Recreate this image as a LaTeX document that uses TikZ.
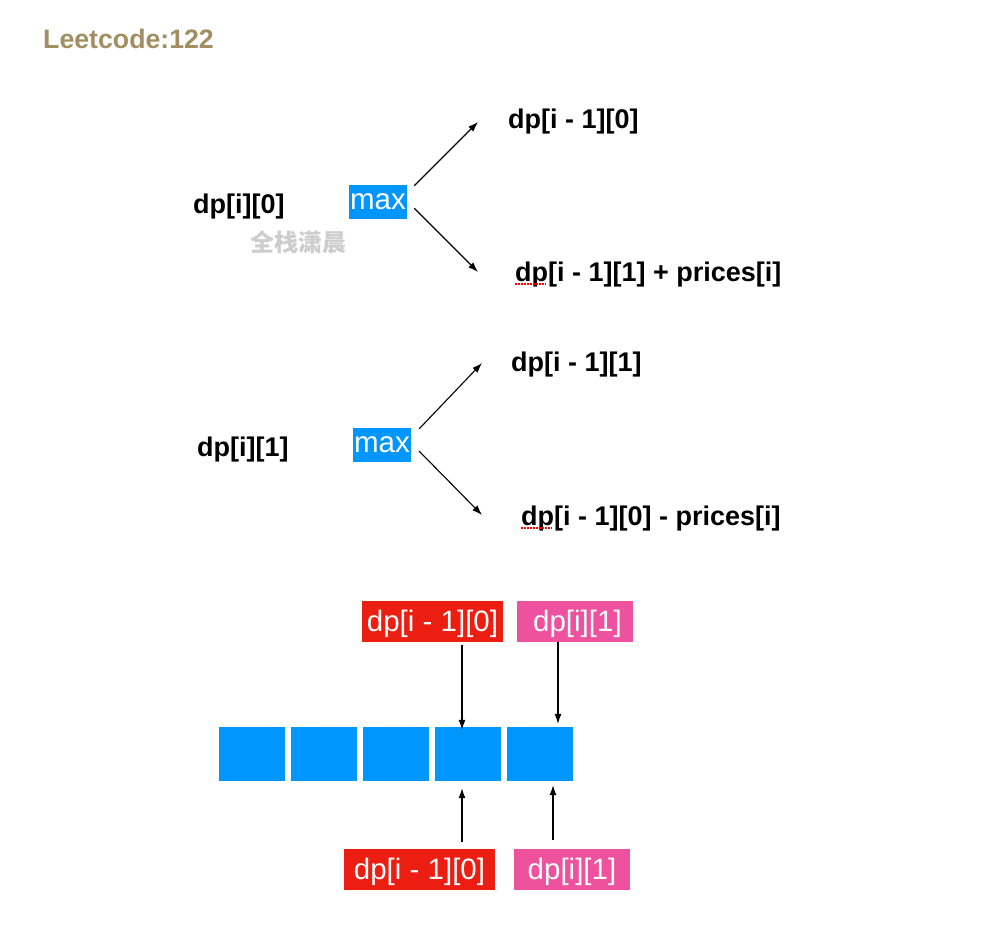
\documentclass[tikz,border=0pt]{standalone}
\usepackage{fontspec}
\setmainfont{Liberation Sans}
\newfontfamily\cjk{Noto Sans CJK SC}
\usetikzlibrary{arrows.meta,calc}
\definecolor{blu}{RGB}{0,150,255}
\definecolor{redb}{RGB}{236,29,17}
\definecolor{pinkb}{RGB}{238,82,158}
\definecolor{titlec}{RGB}{161,143,99}
\definecolor{wm}{RGB}{205,205,205}
\begin{document}
\begin{tikzpicture}[x=1pt,y=-1pt,
  lbl/.style={font=\fontsize{27}{32}\selectfont\bfseries, inner sep=0pt, anchor=west},
  filbox/.style={font=\fontsize{29.5}{34}\selectfont, text=white, inner sep=0pt, text depth=1pt},
  maxbox/.style={filbox, fill=blu, minimum width=58, minimum height=34},
  redbox/.style={filbox, fill=redb, minimum height=41},
  pinkbox/.style={filbox, fill=pinkb, minimum height=41},
  cell/.style={fill=blu, inner sep=0pt, minimum width=66, minimum height=54},
  arr/.style={-{Latex[length=10pt,width=7pt]}, line width=1.1pt},
  spell/.style={draw=red, line width=1.2pt, dash pattern=on 1.5pt off 1.5pt}
]
\useasboundingbox (0,0) rectangle (992,939);

\node[font=\fontsize{26.7}{30}\selectfont\bfseries, text=titlec, inner sep=0pt, anchor=west] (title) at (43,39) {Leetcode:122};

% first recurrence
\node[lbl] (a0) at (193,207) {dp[i][0]};
\node[maxbox] (m1) at (378,202) {max};
\node[font=\fontsize{24}{28}\selectfont\cjk\bfseries, text=wm, inner sep=0pt] (wmark) at (298,242) {全栈潇晨};
\node[lbl] (a1) at (508,122) {dp[i - 1][0]};
\node[lbl] (a2) at (515,275) {dp[i - 1][1] + prices[i]};
\draw[arr] ($(m1.north east)+(7,1)$) -- ($(a1.west)+(-30,0)$);
\draw[arr] ($(m1.south east)+(7,-11)$) -- ($(a2.west)+(-37,-3)$);
\draw[spell] ($(a2.west)+(0,9)$) -- ($(a2.west)+(31,9)$);

% second recurrence
\node[lbl] (b0) at (197,450) {dp[i][1]};
\node[maxbox] (m2) at (382,445) {max};
\node[lbl] (b1) at (511,365) {dp[i - 1][1]};
\node[lbl] (b2) at (521,519) {dp[i - 1][0] - prices[i]};
\draw[arr] ($(m2.north east)+(8,1)$) -- ($(b1.west)+(-29,-2)$);
\draw[arr] ($(m2.south east)+(8,-11)$) -- ($(b2.west)+(-39,-4)$);
\draw[spell] ($(b2.west)+(0,9)$) -- ($(b2.west)+(31,9)$);

% array
\node[cell] (c1) at (252,754) {};
\node[cell] (c2) at (323.5,754) {};
\node[cell] (c3) at (396,754) {};
\node[cell] (c4) at (468,754) {};
\node[cell] (c5) at (540,754) {};

\node[redbox, minimum width=141] (r1) at (432.5,621.5) {dp[i - 1][0]};
\node[pinkbox, minimum width=116] (p1) at (575,621.5) {\,dp[i][1]};
\node[redbox, minimum width=151] (r2) at (419.5,869.5) {dp[i - 1][0]};
\node[pinkbox, minimum width=116] (p2) at (572,869.5) {dp[i][1]};

\draw[arr] ($(r1.south)+(29.5,3)$) -- ($(c4.north)+(-6,3)$);
\draw[arr] ($(p1.south)+(-17,0)$) -- ($(c5.north)+(18,-3)$);
\draw[arr] ($(r2.north)+(42.5,-7)$) -- ($(c4.south)+(-6,7)$);
\draw[arr] ($(p2.north)+(-19,-9)$) -- ($(c5.south)+(13,4)$);
\end{tikzpicture}
\end{document}
